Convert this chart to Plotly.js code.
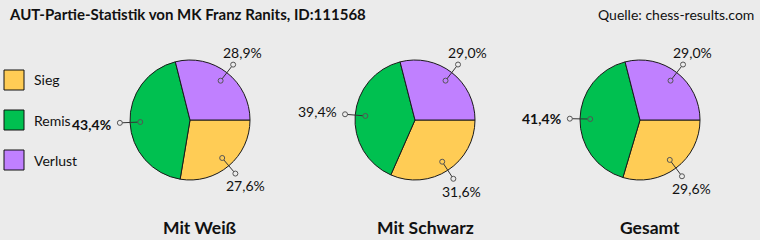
<!DOCTYPE html>
<html>
<head>
<meta charset="utf-8">
<script src="https://cdn.plot.ly/plotly-3.0.1.min.js"></script>
<style>html,body{margin:0;padding:0;background:#EBEBEB;}</style>
</head>
<body>
<div id="chart" style="width:760px;height:240px;"></div>
<script>
// ---- data ----
const categories = ["Sieg", "Remis", "Verlust"];
const pieNames = ["Mit Weiß", "Mit Schwarz", "Gesamt"];
const mitWeiss = [27.6, 43.4, 28.9];
const mitSchwarz = [31.6, 39.4, 29.0];
const gesamt = [29.6, 41.4, 29.0];
const chartTitle = "AUT-Partie-Statistik von MK Franz Ranits, ID:111568";
const sourceText = "Quelle: chess-results.com";

// ---- styling ----
const colors = ["#FFCC55", "#00C050", "#C080FF"];
const bg = "#EBEBEB";
const W = 760, H = 240;
const FONT = "Lato, 'Noto Sans', sans-serif";
const series = [mitWeiss, mitSchwarz, gesamt];
const boldRemis = [true, false, true];
const centersX = [190, 415, 640];
const centerY = 120;
const R = 60;

const px = x => x / W;
const py = y => 1 - y / H;

const traces = [];
const shapes = [];
const annotations = [];
const lines = [], circles = [];

series.forEach((vals, k) => {
  const cx = centersX[k];
  traces.push({
    type: "pie",
    values: vals,
    labels: categories,
    sort: false,
    direction: "clockwise",
    rotation: 90,
    textinfo: "none",
    hoverinfo: "label+percent",
    marker: {colors: colors, line: {color: "#1a1a1a", width: 1}},
    domain: {x: [px(cx - R), px(cx + R)], y: [py(centerY + R), py(centerY - R)]},
    showlegend: false
  });
  const total = vals.reduce((a, b) => a + b, 0);
  let cum = 0;
  vals.forEach((v, i) => {
    const th = 2 * Math.PI * (cum + v / 2) / total;
    cum += v;
    const c = Math.cos(th), s = Math.sin(th);
    const ix = cx + 0.83 * R * c, iy = centerY + 0.83 * R * s;
    const ox = cx + 1.17 * R * c, oy = centerY + 1.17 * R * s;
    lines.push({type: "line", xref: "paper", yref: "paper",
      x0: px(ix), y0: py(iy), x1: px(ox), y1: py(oy),
      line: {color: "#333", width: 1}});
    [[ix, iy, colors[i]], [ox, oy, bg]].forEach(([x, y, f]) => {
      circles.push({type: "circle", xref: "paper", yref: "paper",
        xsizemode: "pixel", ysizemode: "pixel", xanchor: px(x), yanchor: py(y),
        x0: -2.5, x1: 2.5, y0: -2.5, y1: 2.5,
        fillcolor: f, line: {color: "#555", width: 1}});
    });
    const rl = 85 + 13.5 * Math.pow(c, 6);
    const lx = cx + rl * c, ly = centerY + rl * s;
    const txt = v.toFixed(1).replace(".", ",") + "%";
    annotations.push({xref: "paper", yref: "paper", x: px(lx), y: py(ly),
      xanchor: "center", yanchor: "middle", showarrow: false,
      text: (i === 1 && boldRemis[k]) ? "<b>" + txt + "</b>" : txt,
      font: {family: FONT, size: 14, color: "#111"}});
  });
  annotations.push({xref: "paper", yref: "paper", x: px(cx + 10), y: py(227),
    xanchor: "center", yanchor: "middle", showarrow: false,
    text: "<b>" + pieNames[k] + "</b>",
    font: {family: FONT, size: 17.5, color: "#111"}});
});

// legend
categories.forEach((cat, i) => {
  const y0 = 70 + 40 * i;
  shapes.push({type: "rect", xref: "paper", yref: "paper",
    x0: px(4), x1: px(24), y0: py(y0 + 20), y1: py(y0),
    fillcolor: colors[i], line: {color: "#111", width: 1}});
  annotations.push({xref: "paper", yref: "paper", x: px(32), y: py(y0 + 10),
    xanchor: "left", yanchor: "middle", showarrow: false, text: cat,
    font: {family: FONT, size: 14, color: "#111"}});
});

annotations.push({xref: "paper", yref: "paper", x: px(7), y: py(14),
  xanchor: "left", yanchor: "middle", showarrow: false,
  text: "<b>" + chartTitle + "</b>",
  font: {family: FONT, size: 15, color: "#111"}});
annotations.push({xref: "paper", yref: "paper", x: px(756), y: py(14),
  xanchor: "right", yanchor: "middle", showarrow: false,
  text: sourceText, font: {family: FONT, size: 14, color: "#111"}});

const layout = {
  width: W, height: H,
  margin: {l: 0, r: 0, t: 0, b: 0},
  paper_bgcolor: bg, plot_bgcolor: bg,
  showlegend: false,
  shapes: shapes.concat(lines, circles),
  annotations: annotations
};
Plotly.newPlot("chart", traces, layout, {displayModeBar: false, staticPlot: true});
</script>
</body>
</html>
